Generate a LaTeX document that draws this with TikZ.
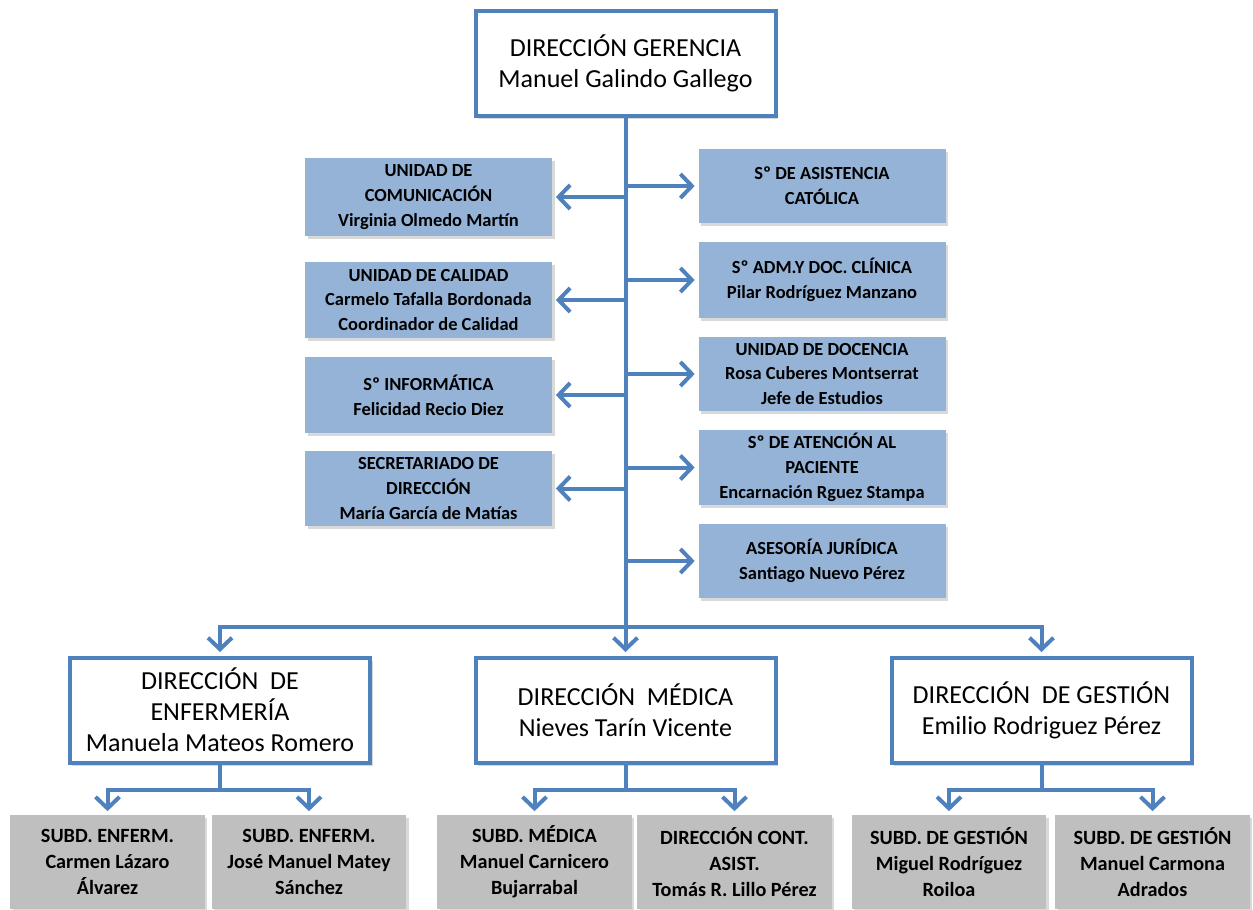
\documentclass[tikz,border=0pt]{standalone}
\usepackage{fontspec}
\setmainfont{Carlito}
\usetikzlibrary{arrows.meta,shadows}
\definecolor{lineblue}{HTML}{4F81BD}
\definecolor{boxblue}{HTML}{95B3D7}
\definecolor{boxgray}{HTML}{BFBFBF}
\tikzset{
        softshadow/.style={drop shadow={opacity=0.25, fill=black!60, shadow xshift=0.5mm, shadow yshift=-0.6mm}},
        dirbox/.style={draw=lineblue, line width=0.8mm, fill=white, align=center, inner sep=2pt,
          minimum width=60mm, minimum height=21mm, font=\fontsize{14.8}{17.6}\selectfont, softshadow},
        unitbox/.style={fill=boxblue, align=center, inner sep=1pt, minimum width=49.4mm,
          font=\bfseries\fontsize{10.5}{14.2}\selectfont, softshadow},
        subbox/.style={fill=boxgray, align=center, inner sep=1pt, minimum width=38.9mm, minimum height=18.8mm,
          font=\bfseries\fontsize{11.5}{14.8}\selectfont, softshadow},
        link/.style={draw=lineblue, line width=0.8mm},
        arrow/.style={link, -{Straight Barb[length=2.3mm,width=4.8mm]}, shorten >=0.7mm}
          }
\begin{document}
\begin{tikzpicture}[x=0.2mm, y=-0.2mm]
        \useasboundingbox (0,0) rectangle (1253,909);
        % top
        \node[dirbox] (ger) at (625.5,63.5) {DIRECCIÓN GERENCIA\\Manuel Galindo Gallego};
        % staff units, left
        \node[unitbox, minimum height=15.6mm] (comunic) at (428.5,197) {UNIDAD DE\\COMUNICACIÓN\\Virginia Olmedo Martín};
        \node[unitbox, minimum height=15.2mm] (calidad) at (428.5,300) {UNIDAD DE CALIDAD\\Carmelo Tafalla Bordonada\\Coordinador de Calidad};
        \node[unitbox, minimum height=15.2mm] (informat) at (428.5,395) {Sº INFORMÁTICA\\Felicidad Recio Diez};
        \node[unitbox, minimum height=15mm] (secret) at (428.5,488.5) {SECRETARIADO DE\\DIRECCIÓN\\María García de Matías};
        % staff units, right
        \node[unitbox, minimum height=14.8mm] (asist) at (822,186) {Sº DE ASISTENCIA\\CATÓLICA};
        \node[unitbox, minimum height=15.2mm] (admin) at (822,280) {Sº ADM.Y DOC. CLÍNICA\\Pilar Rodríguez Manzano};
        \node[unitbox, minimum height=14.8mm] (docen) at (822,374) {UNIDAD DE DOCENCIA\\Rosa Cuberes Montserrat\\Jefe de Estudios};
        \node[unitbox, minimum height=15mm] (atenc) at (822,467.5) {Sº DE ATENCIÓN AL\\PACIENTE\\Encarnación Rguez Stampa};
        \node[unitbox, minimum height=14.8mm] (aseso) at (822,561) {ASESORÍA JURÍDICA\\Santiago Nuevo Pérez};
        % directions
        \node[dirbox] (enf) at (220,710) {DIRECCIÓN\ \ DE\\ENFERMERÍA\\Manuela Mateos Romero};
        \node[dirbox] (med) at (625.5,710) {DIRECCIÓN\ \ MÉDICA\\Nieves Tarín Vicente};
        \node[dirbox] (gest) at (1041.5,710) {DIRECCIÓN\ \ DE GESTIÓN\\Emilio Rodriguez Pérez};
        % sub-directions
        \node[subbox] (enf1) at (107.5,862) {SUBD. ENFERM.\\Carmen Lázaro\\Álvarez};
        \node[subbox] (enf2) at (309,862) {SUBD. ENFERM.\\José Manuel Matey\\Sánchez};
        \node[subbox] (med1) at (534.5,862) {SUBD. MÉDICA\\Manuel Carnicero\\Bujarrabal};
        \node[subbox] (med2) at (734.5,862) {DIRECCIÓN CONT.\\ASIST.\\Tomás R. Lillo Pérez};
        \node[subbox] (gest1) at (949,862) {SUBD. DE GESTIÓN\\Miguel Rodríguez\\Roiloa};
        \node[subbox] (gest2) at (1152.5,862) {SUBD. DE GESTIÓN\\Manuel Carmona\\Adrados};
        \coordinate (bus) at (625.5,627);

        \draw[arrow] (ger.south) -- (med.north);
        \foreach \u in {comunic,calidad,informat,secret,asist,admin,docen,atenc,aseso}
          \draw[arrow] (ger.south |- \u.center) -- (\u);
        \draw[arrow] (bus) -| (enf.north);
        \draw[arrow] (bus) -| (gest.north);
        \foreach \d/\a/\b in {enf/enf1/enf2, med/med1/med2, gest/gest1/gest2}{
          \draw[link] (\d.south) -- ++(0,25) coordinate (\d b);
          \draw[arrow] (\d b) -| (\a.north);
          \draw[arrow] (\d b) -| (\b.north);
        }
      \end{tikzpicture}
\end{document}
